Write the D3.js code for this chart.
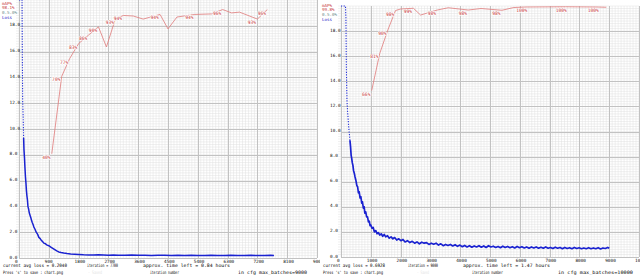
<!DOCTYPE html>
<html>
<head>
<meta charset="utf-8">
<script src="https://cdn.jsdelivr.net/npm/d3@7"></script>
<style>
body { margin: 0; background: #fff; }
svg { display: block; }
text { font-family: "DejaVu Sans Mono", "Liberation Mono", monospace; }
</style>
</head>
<body>
<script>
// ---- left run : max_batches 9000 ----
var leftLossIter = [0, 80, 92, 100, 111, 125, 140, 150, 165, 180, 195, 210, 225, 240, 255, 270, 290, 310, 335, 360, 380, 400, 425, 450, 480, 520, 560, 600, 640, 680, 720, 750, 800, 850, 900, 960, 1020, 1080, 1140, 1200, 1270, 1350, 1450, 1560, 1680, 1800, 1950, 2100, 2250, 2400, 2550, 2700, 2850, 3000, 3200, 3400, 3600, 3800, 4000, 4200, 4400, 4600, 4800, 5000, 5200, 5400, 5600, 5800, 6000, 6200, 6400, 6600, 6800, 7000, 7200, 7400, 7600, 7700];
var leftLoss = [25, 25, 20.5, 16, 12.2, 11.0, 9.3, 8.4, 7.8, 7.0, 6.3, 5.8, 5.2, 4.8, 4.5, 4.0, 3.8, 3.5, 3.3, 3.1, 2.9, 2.75, 2.6, 2.4, 2.25, 2.0, 1.85, 1.6, 1.5, 1.35, 1.25, 1.15, 1.1, 1.0, 0.95, 0.85, 0.75, 0.65, 0.55, 0.47, 0.42, 0.38, 0.34, 0.31, 0.29, 0.27, 0.25, 0.24, 0.23, 0.26, 0.24, 0.22, 0.23, 0.22, 0.21, 0.23, 0.21, 0.22, 0.20, 0.21, 0.22, 0.20, 0.21, 0.19, 0.21, 0.20, 0.20, 0.22, 0.19, 0.20, 0.21, 0.19, 0.20, 0.21, 0.19, 0.20, 0.21, 0.20];
var leftMapIter = [990, 1290, 1530, 1800, 2100, 2400, 2640, 2910, 3150, 3450, 3750, 4260, 4500, 4770, 5310, 5820, 6150, 6420, 6660, 7200, 7500];
var leftMap = [40.4, 70.4, 77.3, 83.1, 86.4, 89.6, 81.8, 92.6, 94.0, 93.8, 92.6, 94.4, 88.8, 93.4, 94.4, 94.6, 96.3, 95.0, 95.3, 92.6, 96.3];
var leftMapShown = [1, 1, 1, 1, 1, 1, 0, 1, 1, 0, 0, 1, 0, 0, 1, 0, 1, 0, 0, 1, 1];
var leftXTicks = [0, 900, 1800, 2700, 3600, 4500, 5400, 6300, 7200, 8100, 9000];
var leftYTicks = [0, 2, 4, 6, 8, 10, 12, 14, 16, 18];
var leftLegend = ["mAP%", "98.1%", "0.5.0%", "Loss"];
var leftInfo = ["current avg loss = 0.2040", "iteration = 7700", "approx. time left = 0.84 hours",
                "Press 's' to save : chart.png", " - Saved", "iteration number", "in cfg max_batches=9000"];

// ---- right run : max_batches 10000 ----
var rightLossIter = [0, 150, 165, 180, 200, 220, 240, 260, 277, 300, 320, 340, 357, 380, 400, 420, 443, 470, 500, 530, 557, 585, 610, 640, 667, 695, 720, 750, 777, 800, 830, 860, 890, 920, 950, 975, 1000, 1040, 1080, 1120, 1167, 1210, 1250, 1300, 1350, 1400, 1450, 1500, 1560, 1620, 1680, 1740, 1800, 1870, 1940, 2010, 2080, 2150, 2230, 2310, 2390, 2470, 2550, 2630, 2710, 2790, 2870, 2950, 3030, 3110, 3190, 3270, 3350, 3430, 3510, 3590, 3670, 3750, 3830, 3910, 3990, 4070, 4150, 4230, 4310, 4390, 4470, 4550, 4630, 4710, 4790, 4870, 4950, 5030, 5110, 5190, 5270, 5350, 5430, 5510, 5590, 5670, 5750, 5830, 5910, 5990, 6070, 6150, 6230, 6310, 6390, 6470, 6550, 6630, 6710, 6790, 6870, 6950, 7030, 7110, 7190, 7270, 7350, 7430, 7510, 7590, 7670, 7750, 7830, 7910, 7990, 8070, 8150, 8230, 8310, 8390, 8470, 8550, 8630, 8710, 8790, 8870, 8950, 9000];
var rightLoss = [25, 25, 19, 15, 12.5, 11.6, 11.0, 10.3, 9.9, 9.3, 8.8, 8.1, 7.9, 7.5, 7.3, 6.9, 6.7, 6.4, 6.1, 5.7, 5.6, 5.1, 5.2, 4.7, 4.8, 4.3, 4.4, 3.9, 4.0, 3.5, 3.6, 3.2, 3.2, 2.8, 2.85, 2.5, 2.55, 2.3, 2.35, 2.0, 2.1, 1.85, 1.95, 1.75, 1.85, 1.65, 1.8, 1.6, 1.7, 1.5, 1.6, 1.45, 1.55, 1.35, 1.45, 1.3, 1.4, 1.2, 1.3, 1.15, 1.25, 1.1, 1.2, 1.05, 1.18, 1.1, 1.15, 1.0, 1.1, 1.02, 1.1, 0.95, 1.05, 0.9, 1.0, 0.92, 1.0, 0.88, 0.98, 0.85, 0.95, 0.82, 0.92, 0.8, 0.9, 0.78, 0.88, 0.8, 0.9, 0.78, 0.88, 0.76, 0.9, 0.8, 0.86, 0.76, 0.84, 0.74, 0.86, 0.76, 0.84, 0.74, 0.82, 0.72, 0.84, 0.74, 0.82, 0.72, 0.8, 0.7, 0.8, 0.72, 0.8, 0.7, 0.78, 0.7, 0.8, 0.7, 0.76, 0.68, 0.78, 0.7, 0.76, 0.66, 0.76, 0.68, 0.74, 0.66, 0.76, 0.68, 0.74, 0.66, 0.72, 0.66, 0.74, 0.66, 0.72, 0.66, 0.74, 0.64, 0.72, 0.68, 0.76, 0.69];
var rightMapIter = [1030, 1300, 1570, 1830, 2000, 2430, 2670, 3230, 3600, 4270, 4700, 5400, 5800, 6200, 7530, 8600, 8900];
var rightMap = [66.3, 81.1, 90.4, 98.2, 98.8, 99.1, 96.4, 98.4, 99.3, 98.4, 99.0, 98.3, 99.4, 99.6, 99.7, 99.6, 99.5];
var rightMapShown = [1, 1, 1, 1, 0, 1, 0, 1, 0, 1, 0, 1, 0, 1, 1, 1, 0];
var rightXTicks = [0, 1000, 2000, 3000, 4000, 5000, 6000, 7000, 8000, 9000, 10000];
var rightYTicks = [0, 2, 4, 6, 8, 10, 12, 14, 16, 18];
var rightLegend = ["mAP%", "99.8%", "0.5.0%", "Loss"];
var rightInfo = ["current avg loss = 0.6928", "iteration = 9000", "approx. time left = 1.47 hours",
                 "Press 's' to save : chart.png", " - Saved", "iteration number", "in cfg max_batches=10000"];

var svg = d3.select("body").append("svg")
  .attr("width", 640).attr("height", 275);
svg.append("rect").attr("width", 640).attr("height", 275).attr("fill", "#fff");

function chart(o) {
  var g = svg.append("g");
  var clipId = "clip" + o.id;
  svg.append("clipPath").attr("id", clipId)
    .append("rect").attr("x", o.cx0).attr("y", 0).attr("width", o.cx1 - o.cx0).attr("height", 275);
  g.attr("clip-path", "url(#" + clipId + ")");

  var x = d3.scaleLinear().domain([0, o.maxBatches]).range([o.x0, o.x1]);
  var y = d3.scaleLinear().domain([0, 20]).range([o.yBot, o.yTop]).clamp(true);
  var yMap = d3.scaleLinear().domain([0, 100]).range([o.yBot, o.yTop]);

  // minor grid
  g.append("g").selectAll("line").data(d3.range(0.2, 20.01, 0.2)).enter().append("line")
    .attr("x1", o.x0 - 3).attr("x2", o.x1).attr("y1", y).attr("y2", y)
    .attr("stroke", "#e0e0e0").attr("stroke-width", 0.5);
  g.append("g").selectAll("line").data(d3.range(0, o.maxBatches + 1, o.maxBatches / 100)).enter().append("line")
    .attr("x1", x).attr("x2", x).attr("y1", o.yTop).attr("y2", o.yBot)
    .attr("stroke", "#e0e0e0").attr("stroke-width", 0.5);
  // major grid
  g.append("g").selectAll("line").data(o.yTicks).enter().append("line")
    .attr("x1", o.x0).attr("x2", o.x1).attr("y1", function(d) { return Math.round(y(d)) + 0.5; })
    .attr("y2", function(d) { return Math.round(y(d)) + 0.5; })
    .attr("stroke", "#c2c2c2").attr("stroke-width", 1);
  g.append("g").selectAll("line").data(o.xTicks).enter().append("line")
    .attr("x1", function(d) { return Math.round(x(d)) + 0.5; })
    .attr("x2", function(d) { return Math.round(x(d)) + 0.5; })
    .attr("y1", o.yTop).attr("y2", o.yBot)
    .attr("stroke", "#c2c2c2").attr("stroke-width", 1);

  // axes labels
  var xa = g.append("g").attr("transform", "translate(0," + o.yBot + ")")
    .call(d3.axisBottom(x).tickValues(o.xTicks).tickSize(0).tickFormat(d3.format("d")));
  xa.select(".domain").remove();
  xa.selectAll("text").attr("text-anchor", "start").attr("dx", -4.5).attr("y", 1.6).attr("dy", "0.71em")
    .attr("font-size", 4.4).attr("fill", "#111").attr("font-family", null);

  var ya = g.append("g").attr("transform", "translate(" + o.yLabelX + ",0)")
    .call(d3.axisLeft(y).tickValues(o.yTicks).tickSize(0).tickFormat(d3.format(".1f")));
  ya.select(".domain").remove();
  ya.selectAll("text").attr("text-anchor", "start").attr("x", 0).attr("dy", "0em")
    .attr("font-size", 4.4).attr("fill", "#111").attr("font-family", null);

  // loss curve
  var pts = o.lossIter.map(function(d, i) { return [d, o.loss[i]]; });
  var line = d3.line().x(function(d) { return x(d[0]); }).y(function(d) { return y(d[1]); });
  g.append("path").datum(pts.filter(function(d) { return d[1] > 9; }))
    .attr("d", line).attr("fill", "none").attr("stroke", "#2430d8")
    .attr("stroke-width", 1.1).attr("stroke-dasharray", "1.2 1.4");
  g.append("path").datum(pts.filter(function(d) { return d[1] <= 9.5; }))
    .attr("d", line).attr("fill", "none").attr("stroke", "#1a22d0")
    .attr("stroke-width", o.lossWidth).attr("stroke-linejoin", "round");

  // mAP curve
  var mp = o.mapIter.map(function(d, i) { return [d, o.map[i], o.mapShown[i]]; });
  var mline = d3.line().x(function(d) { return x(d[0]); }).y(function(d) { return yMap(d[1]); });
  g.append("path").datum(mp).attr("d", mline).attr("fill", "none")
    .attr("stroke", "#e07a7a").attr("stroke-width", 0.8);
  g.append("g").selectAll("text").data(mp.filter(function(d) { return d[2]; })).enter().append("text")
    .attr("x", function(d) { return x(d[0]) - 9.6; })
    .attr("y", function(d) { return yMap(d[1]) + 5; })
    .attr("font-size", 4.6).attr("fill", "#c83a3a")
    .attr("stroke", "#fff").attr("stroke-width", 1.4).attr("paint-order", "stroke")
    .text(function(d) { return Math.round(d[1]) + "%"; });

  // legend
  var legColors = ["#c83a3a", "#c83a3a", "#6a8a8a", "#2020c8"];
  g.append("g").selectAll("text").data(o.legend).enter().append("text")
    .attr("x", o.legX).attr("y", function(d, i) { return o.legY + i * 4.8; })
    .attr("font-size", 4.2).attr("fill", function(d, i) { return legColors[i]; })
    .text(function(d) { return d; });

  // bottom info text
  var info = g.append("g").attr("font-size", 4.6);
  o.info.forEach(function(t, i) {
    info.append("text").attr("x", o.infoPos[i][0]).attr("y", o.infoPos[i][2])
      .attr("textLength", o.infoPos[i][1]).attr("lengthAdjust", "spacingAndGlyphs")
      .attr("fill", i === 4 ? "#e4e4e4" : "#000")
      .text(t);
  });
}

chart({
  id: "L", cx0: 0, cx1: 320, x0: 19, x1: 317, yTop: 0, yBot: 258, maxBatches: 9000,
  yLabelX: 9.5, lossWidth: 1.5, legX: 2, legY: 4.5,
  lossIter: leftLossIter, loss: leftLoss, mapIter: leftMapIter, map: leftMap, mapShown: leftMapShown,
  xTicks: leftXTicks, yTicks: leftYTicks, legend: leftLegend, info: leftInfo,
  infoPos: [[3, 64, 266.8], [87, 31, 266.8], [143, 87, 266.8], [3, 60, 273.8], [88, 14, 273.8], [150, 29, 273.8], [238, 69, 273.8]]
});
chart({
  id: "R", cx0: 321, cx1: 640, x0: 341, x1: 639, yTop: 6, yBot: 257, maxBatches: 10000,
  yLabelX: 330, lossWidth: 1.7, legX: 322, legY: 6.5,
  lossIter: rightLossIter, loss: rightLoss, mapIter: rightMapIter, map: rightMap, mapShown: rightMapShown,
  xTicks: rightXTicks, yTicks: rightYTicks, legend: rightLegend, info: rightInfo,
  infoPos: [[323, 62, 266.8], [408, 30, 266.8], [463, 87, 266.8], [323, 60, 273.8], [417, 12, 273.8], [472, 31, 273.8], [558, 75, 273.8]]
});
</script>
</body>
</html>
